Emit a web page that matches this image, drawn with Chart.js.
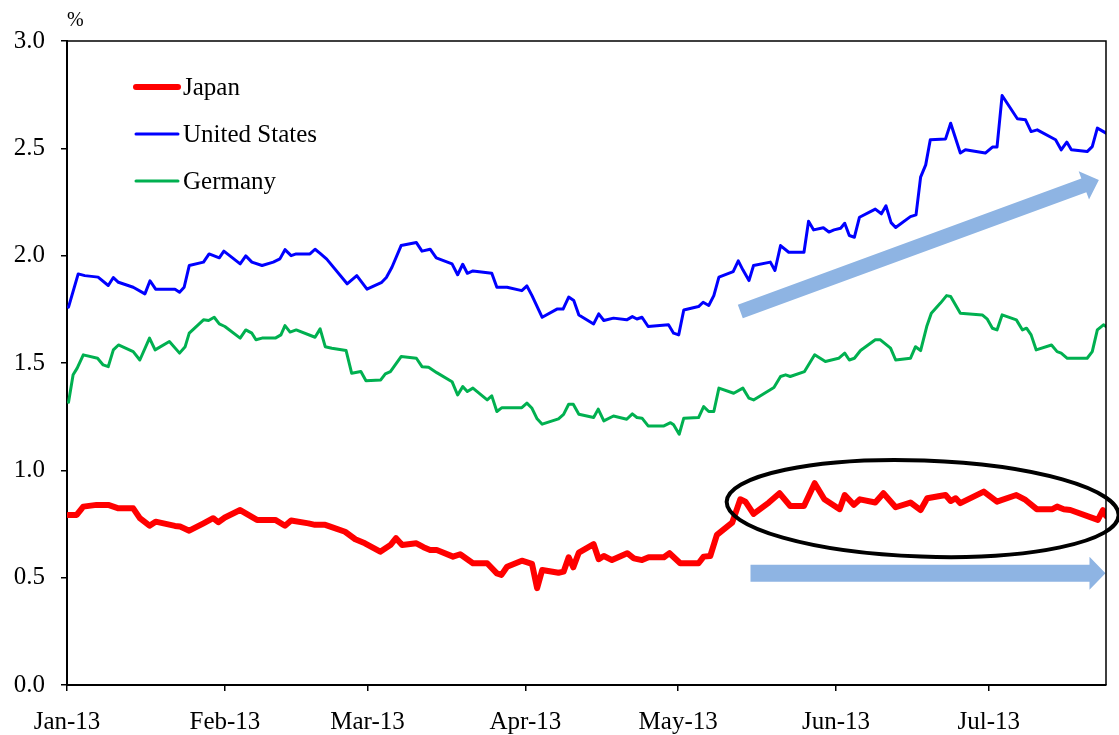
<!DOCTYPE html>
<html>
<head>
<meta charset="utf-8">
<script src="https://cdn.jsdelivr.net/npm/chart.js@4.4.1/dist/chart.umd.min.js"></script>
<style>
  html, body { margin: 0; padding: 0; background: #ffffff; }
  #wrap { width: 1119px; height: 735px; }
</style>
</head>
<body>
<div id="wrap"><canvas id="c" width="1119" height="735"></canvas></div>
<script>
// ---- Axis labels ----
const monthTickDays = [0, 31, 59, 90, 120, 151, 181];           // days since 1 Jan 2013
const monthTickLabels = ['Jan-13', 'Feb-13', 'Mar-13', 'Apr-13', 'May-13', 'Jun-13', 'Jul-13'];
const yTickValues = [0, 0.5, 1.0, 1.5, 2.0, 2.5, 3.0];
const yUnitLabel = '%';
const seriesNames = ['Japan', 'United States', 'Germany'];

// ---- Japan 10y yield (days since 1 Jan 2013, %) ----
const japanDays = [
  0.3, 1.9, 3.2, 5.8, 8.1, 10.1, 13.0, 14.3, 16.2, 17.4,
  21.2, 22.2, 24.0, 26.8, 28.7, 29.7, 31.0, 34.0, 37.3, 40.9,
  42.8, 44.0, 47.4, 48.7, 50.7, 51.7, 54.6, 56.6, 58.5, 61.5,
  63.5, 64.6, 65.8, 68.6, 70.0, 71.3, 72.6, 75.8, 77.2, 79.7,
  82.5, 84.4, 85.3, 86.4, 89.3, 91.3, 92.3, 93.3, 96.5, 97.5,
  98.5, 99.4, 100.5, 103.4, 104.4, 105.4, 107.0, 110.0, 111.3, 112.9,
  114.2, 117.2, 118.3, 120.4, 124.0, 125.0, 126.3, 127.6, 130.6, 132.2,
  133.2, 134.8, 137.8, 139.9, 142.0, 144.7, 146.8, 148.7, 151.7, 152.7,
  154.5, 155.7, 158.7, 160.3, 162.7, 165.6, 167.6, 168.9, 172.5, 173.5,
  174.5, 175.4, 180.0, 182.6, 186.4, 188.2, 190.4, 193.5, 194.4, 195.7,
  197.0, 202.4, 203.4, 204.0
];
const japanYields = [
  0.792, 0.792, 0.831, 0.839, 0.839, 0.823, 0.823, 0.777, 0.742, 0.761,
  0.741, 0.738, 0.719, 0.753, 0.777, 0.758, 0.780, 0.815, 0.769, 0.769,
  0.742, 0.766, 0.753, 0.746, 0.746, 0.738, 0.714, 0.679, 0.660, 0.621,
  0.652, 0.684, 0.652, 0.660, 0.642, 0.629, 0.629, 0.598, 0.609, 0.567,
  0.567, 0.520, 0.513, 0.551, 0.579, 0.564, 0.451, 0.536, 0.523, 0.528,
  0.595, 0.548, 0.617, 0.656, 0.586, 0.601, 0.582, 0.614, 0.590, 0.582,
  0.595, 0.595, 0.614, 0.567, 0.567, 0.598, 0.601, 0.699, 0.756, 0.865,
  0.854, 0.797, 0.850, 0.893, 0.834, 0.834, 0.940, 0.865, 0.819, 0.885,
  0.839, 0.865, 0.850, 0.893, 0.828, 0.850, 0.815, 0.870, 0.885, 0.857,
  0.870, 0.847, 0.901, 0.854, 0.885, 0.862, 0.819, 0.819, 0.831, 0.819,
  0.815, 0.769, 0.815, 0.788
];

// ---- United States 10y yield ----
const usDays = [
  0.3, 2.2, 3.5, 6.1, 8.1, 9.1, 10.1, 13.0, 15.3, 16.3,
  17.4, 21.2, 22.1, 23.0, 24.0, 26.8, 27.9, 29.9, 30.8, 34.0,
  35.1, 36.3, 38.3, 40.5, 41.8, 42.8, 44.0, 45.0, 47.7, 48.7,
  49.7, 51.0, 55.0, 56.9, 58.9, 61.8, 62.7, 63.8, 65.6, 68.6,
  69.7, 71.3, 72.5, 75.6, 76.7, 77.7, 78.6, 79.7, 83.4, 84.4,
  86.4, 89.3, 90.3, 91.3, 93.3, 96.2, 97.4, 98.5, 99.5, 100.5,
  103.4, 104.4, 105.4, 107.3, 109.9, 111.0, 111.9, 112.9, 114.1, 118.1,
  119.1, 120.1, 121.1, 124.0, 124.9, 126.0, 127.0, 128.0, 130.8, 131.8,
  132.7, 133.9, 134.8, 138.1, 139.0, 140.1, 141.7, 144.7, 145.6, 146.6,
  148.5, 149.6, 150.6, 151.9, 152.7, 153.6, 154.6, 155.6, 158.7, 159.9,
  160.8, 161.8, 162.7, 165.6, 166.7, 167.6, 168.6, 169.5, 172.5, 173.5,
  175.4, 176.4, 180.3, 181.7, 182.6, 183.6, 186.6, 188.2, 189.3, 190.5,
  194.1, 195.2, 196.3, 197.2, 200.3, 201.3, 202.3, 204.0
];
const usYields = [
  1.760, 1.915, 1.907, 1.900, 1.861, 1.898, 1.876, 1.853, 1.822, 1.883,
  1.844, 1.844, 1.830, 1.853, 1.954, 1.970, 2.008, 1.990, 2.021, 1.962,
  1.999, 1.970, 1.954, 1.970, 1.985, 2.028, 2.000, 2.008, 2.008, 2.030,
  2.011, 1.984, 1.869, 1.907, 1.844, 1.876, 1.898, 1.946, 2.047, 2.061,
  2.021, 2.030, 1.990, 1.962, 1.911, 1.960, 1.918, 1.929, 1.918, 1.853,
  1.853, 1.837, 1.859, 1.814, 1.713, 1.751, 1.751, 1.807, 1.791, 1.724,
  1.682, 1.729, 1.698, 1.709, 1.701, 1.716, 1.705, 1.713, 1.670, 1.678,
  1.639, 1.631, 1.747, 1.763, 1.783, 1.768, 1.814, 1.900, 1.926, 1.976,
  1.934, 1.884, 1.954, 1.970, 1.931, 2.047, 2.016, 2.016, 2.160, 2.120,
  2.130, 2.110, 2.120, 2.128, 2.151, 2.094, 2.086, 2.179, 2.217, 2.195,
  2.232, 2.154, 2.131, 2.182, 2.190, 2.366, 2.423, 2.540, 2.544, 2.617,
  2.478, 2.493, 2.478, 2.506, 2.506, 2.746, 2.638, 2.633, 2.578, 2.586,
  2.540, 2.493, 2.529, 2.493, 2.485, 2.508, 2.594, 2.571
];

// ---- Germany 10y yield ----
const germanyDays = [
  0.3, 1.2, 2.0, 3.2, 6.0, 7.1, 8.1, 9.1, 10.1, 13.0,
  14.3, 16.2, 17.3, 20.1, 22.1, 23.2, 24.0, 26.8, 27.8, 28.9,
  29.9, 31.0, 34.0, 35.1, 36.3, 37.1, 38.3, 40.9, 42.0, 42.8,
  43.8, 45.0, 48.7, 49.7, 50.7, 52.0, 54.8, 55.9, 57.7, 58.7,
  61.6, 62.5, 63.5, 65.6, 68.6, 69.7, 71.0, 72.6, 75.6, 76.7,
  77.7, 78.6, 79.7, 82.5, 83.4, 84.4, 85.4, 89.3, 90.3, 91.3,
  92.3, 93.3, 96.5, 97.5, 98.5, 99.4, 100.5, 103.4, 104.3, 105.4,
  107.3, 109.9, 111.0, 111.9, 112.9, 114.1, 117.2, 118.5, 119.1, 120.2,
  121.1, 124.0, 125.0, 126.0, 127.0, 128.0, 130.9, 132.7, 133.9, 134.8,
  138.8, 140.1, 141.1, 142.0, 144.8, 146.8, 148.9, 151.5, 152.7, 153.6,
  154.6, 155.8, 158.7, 159.7, 161.7, 162.7, 165.6, 166.6, 167.6, 168.8,
  169.7, 171.5, 172.7, 173.5, 175.4, 179.7, 180.7, 181.7, 182.6, 183.6,
  186.4, 187.6, 188.4, 189.3, 190.3, 193.3, 194.4, 195.2, 196.4, 200.3,
  201.3, 202.3, 203.5, 204.0
];
const germanyYields = [
  1.317, 1.445, 1.476, 1.538, 1.522, 1.491, 1.483, 1.561, 1.584, 1.553,
  1.514, 1.616, 1.561, 1.600, 1.546, 1.576, 1.639, 1.701, 1.698, 1.713,
  1.682, 1.670, 1.616, 1.654, 1.639, 1.608, 1.616, 1.616, 1.631, 1.674,
  1.644, 1.654, 1.620, 1.659, 1.576, 1.569, 1.558, 1.452, 1.460, 1.417,
  1.421, 1.449, 1.460, 1.530, 1.522, 1.483, 1.480, 1.455, 1.413, 1.351,
  1.390, 1.367, 1.383, 1.328, 1.347, 1.274, 1.292, 1.292, 1.313, 1.289,
  1.240, 1.215, 1.240, 1.261, 1.308, 1.308, 1.261, 1.246, 1.285, 1.230,
  1.253, 1.238, 1.263, 1.246, 1.243, 1.207, 1.207, 1.222, 1.212, 1.168,
  1.243, 1.246, 1.297, 1.274, 1.274, 1.383, 1.359, 1.383, 1.336, 1.328,
  1.386, 1.437, 1.445, 1.437, 1.460, 1.538, 1.507, 1.522, 1.546, 1.514,
  1.522, 1.558, 1.608, 1.608, 1.569, 1.514, 1.522, 1.576, 1.558, 1.670,
  1.732, 1.779, 1.814, 1.810, 1.732, 1.724, 1.704, 1.662, 1.654, 1.724,
  1.701, 1.654, 1.662, 1.631, 1.561, 1.584, 1.553, 1.546, 1.522, 1.522,
  1.553, 1.654, 1.678, 1.670
];

// ---- Annotation shapes, in data units (day, %) ----
const upTrendArrow = { from: [132.2, 1.740], to: [202.6, 2.353] };
const flatTrendArrow = { from: [134.2, 0.520], to: [203.9, 0.520] };
const japanEllipse = { center: [168.0, 0.822], radiusDays: 38.5, radiusPct: 0.224 };

function toPoints(days, values) {
  if (days.length !== values.length) console.warn('length mismatch', days.length, values.length);
  return days.map((d, i) => ({ x: d, y: values[i] }));
}

const serifFont = 'Liberation Serif';

const framePlugin = {
  id: 'frame',
  afterDraw(chart) {
    const { ctx, chartArea: a } = chart;
    ctx.save();
    ctx.strokeStyle = '#000';
    ctx.lineWidth = 1.5;
    ctx.beginPath();
    ctx.moveTo(a.left, a.top);
    ctx.lineTo(a.right, a.top);
    ctx.lineTo(a.right, a.bottom);
    ctx.stroke();
    ctx.restore();
  }
};

const insideLegendPlugin = {
  id: 'insideLegend',
  afterDraw(chart) {
    const { ctx, chartArea: a } = chart;
    ctx.save();
    chart.data.datasets.forEach((ds, i) => {
      const y = a.top + 46 + i * 47;
      ctx.strokeStyle = ds.borderColor;
      ctx.lineWidth = ds.borderWidth;
      ctx.lineCap = 'round';
      ctx.beginPath();
      ctx.moveTo(a.left + 69, y);
      ctx.lineTo(a.left + 111, y);
      ctx.stroke();
      ctx.fillStyle = '#000';
      ctx.font = '25px "' + serifFont + '"';
      ctx.textBaseline = 'middle';
      ctx.textAlign = 'left';
      ctx.fillText(ds.label, a.left + 116, y + 1);
    });
    ctx.restore();
  }
};

function drawBlockArrow(ctx, x1, y1, x2, y2, bodyW, headW, headL, color) {
  const ang = Math.atan2(y2 - y1, x2 - x1);
  const len = Math.hypot(x2 - x1, y2 - y1);
  ctx.save();
  ctx.translate(x1, y1);
  ctx.rotate(ang);
  ctx.fillStyle = color;
  ctx.beginPath();
  ctx.moveTo(0, -bodyW / 2);
  ctx.lineTo(len - headL, -bodyW / 2);
  ctx.lineTo(len - headL, -headW / 2);
  ctx.lineTo(len, 0);
  ctx.lineTo(len - headL, headW / 2);
  ctx.lineTo(len - headL, bodyW / 2);
  ctx.lineTo(0, bodyW / 2);
  ctx.closePath();
  ctx.fill();
  ctx.restore();
}

const annotationPlugin = {
  id: 'shapes',
  afterDatasetsDraw(chart) {
    const { ctx } = chart;
    const xs = chart.scales.x, ys = chart.scales.y;
    const px = d => xs.getPixelForValue(d), py = v => ys.getPixelForValue(v);
    drawBlockArrow(ctx, px(upTrendArrow.from[0]), py(upTrendArrow.from[1]),
      px(upTrendArrow.to[0]), py(upTrendArrow.to[1]), 14.5, 30, 16, '#8EB4E3');
    drawBlockArrow(ctx, px(flatTrendArrow.from[0]), py(flatTrendArrow.from[1]),
      px(flatTrendArrow.to[0]), py(flatTrendArrow.to[1]), 17, 33, 16, '#8EB4E3');
    const cx = px(japanEllipse.center[0]), cy = py(japanEllipse.center[1]);
    const rx = px(japanEllipse.center[0] + japanEllipse.radiusDays) - cx;
    const ry = py(japanEllipse.center[1] - japanEllipse.radiusPct) - cy;
    ctx.save();
    ctx.strokeStyle = '#000';
    ctx.lineWidth = 4;
    ctx.beginPath();
    ctx.ellipse(cx, cy, rx, ry, 0.035, 0, Math.PI * 2);
    ctx.stroke();
    ctx.restore();
  }
};

new Chart(document.getElementById('c'), {
  type: 'line',
  data: {
    datasets: [
      { label: seriesNames[0], data: toPoints(japanDays, japanYields), borderColor: '#FF0000', borderWidth: 6 },
      { label: seriesNames[1], data: toPoints(usDays, usYields), borderColor: '#0000FF', borderWidth: 3 },
      { label: seriesNames[2], data: toPoints(germanyDays, germanyYields), borderColor: '#00B050', borderWidth: 3 }
    ]
  },
  options: {
    responsive: false,
    animation: false,
    devicePixelRatio: 1,
    parsing: false,
    elements: {
      point: { radius: 0, hoverRadius: 0 },
      line: { tension: 0, borderJoinStyle: 'round', borderCapStyle: 'round', fill: false }
    },
    layout: { padding: { left: 0, right: 13, top: 0, bottom: 0 } },
    plugins: {
      legend: { display: false },
      tooltip: { enabled: false },
      title: {
        display: true, text: yUnitLabel, align: 'start', fullSize: false, color: '#000',
        font: { family: serifFont, size: 20, weight: 'normal', lineHeight: 1.2 },
        padding: { top: 9, bottom: 8 }
      }
    },
    scales: {
      x: {
        type: 'linear', min: 0, max: 204,
        afterBuildTicks: s => { s.ticks = monthTickDays.map(v => ({ value: v })); },
        afterFit: s => { s.height = 50; },
        ticks: {
          autoSkip: false, maxRotation: 0, minRotation: 0, padding: 16, color: '#000',
          font: { family: serifFont, size: 25 },
          callback: v => monthTickLabels[monthTickDays.indexOf(v)]
        },
        grid: { drawOnChartArea: false, drawTicks: true, tickLength: 6, color: '#000', lineWidth: 1.5 },
        border: { display: true, color: '#000', width: 2 }
      },
      y: {
        type: 'linear', min: 0, max: 3,
        afterBuildTicks: s => { s.ticks = yTickValues.map(v => ({ value: v })); },
        afterFit: s => { s.width = 67; },
        ticks: {
          padding: 16, color: '#000',
          font: { family: serifFont, size: 25 },
          callback: v => v.toFixed(1)
        },
        grid: { drawOnChartArea: false, drawTicks: true, tickLength: 6, color: '#000', lineWidth: 1.5 },
        border: { display: true, color: '#000', width: 2 }
      }
    }
  },
  plugins: [annotationPlugin, framePlugin, insideLegendPlugin]
});
</script>
</body>
</html>
